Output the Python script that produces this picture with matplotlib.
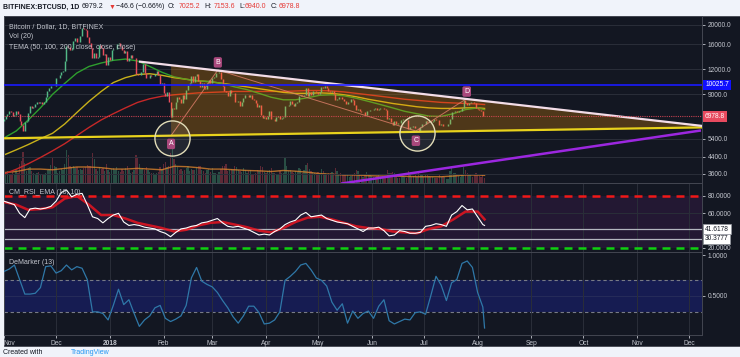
import matplotlib
matplotlib.use('Agg')
import matplotlib.pyplot as plt
import matplotlib.dates as mdates
from matplotlib.patches import Polygon, Rectangle
from matplotlib.transforms import blended_transform_factory
import numpy as np
import pandas as pd

plt.rcParams['font.family'] = ['Liberation Sans', 'DejaVu Sans']

START = '2017-11-01'

# daily closes, BITFINEX:BTCUSD (Nov 2017 .. Aug 5 2018)
closes = (
    [6750, 7030, 7160, 7400, 7380, 6980, 7120, 7460, 7140, 6590, 6340, 5900, 6550, 6620, 7290,
     7830, 7700, 7790, 8030, 8240, 8100, 8220, 8010, 8200, 8750, 9300, 9730, 9900, 9850, 9950]
    + [10850, 10900, 11300, 11600, 11700, 13200, 15600, 15500, 14900, 15100, 16700, 17200, 16400, 16500, 17600,
       19200, 19000, 18800, 17300, 16300, 15400, 13600, 14400, 13700, 13900, 15800, 15400, 14200, 14300, 12600, 13900]
    + [13400, 14900, 15100, 15200, 16000, 16300, 15600, 14900, 14500, 14800, 13200, 13700, 14200, 13600, 13600,
       11400, 11200, 11200, 11600, 12800, 11500, 10800, 10900, 11300, 11100, 11100, 11400, 11800, 11200, 10100, 10200]
    + [9100, 8800, 9200, 8200, 6900, 7700, 7600, 8200, 8700, 8500, 8100, 8900, 8500, 9500,
       10000, 10200, 11100, 10400, 11100, 11400, 10500, 9800, 10200, 9700, 9600, 10300, 10600, 10300]
    + [10900, 11000, 11500, 11500, 11600, 10700, 9900, 9300, 9200, 8800, 9500, 9100, 9100, 8200, 8200,
       8300, 7900, 8200, 8600, 8900, 8900, 8700, 8900, 8500, 8450, 8150, 7800, 7950, 7100, 6850, 6950]
    + [6800, 7050, 7400, 6800, 6800, 6600, 6900, 7000, 6770, 6830, 6930, 7900, 7900, 8000, 8350,
       8050, 7900, 8170, 8280, 8850, 8920, 8800, 8950, 9650, 8870, 9280, 8930, 9350, 9400, 9240]
    + [9070, 9220, 9750, 9700, 9850, 9650, 9370, 9190, 9320, 9030, 8430, 8500, 8720, 8680, 8500,
       8350, 8060, 8240, 8240, 8520, 8400, 8000, 7500, 7580, 7460, 7350, 7350, 7110, 7470, 7400, 7500]
    + [7520, 7640, 7720, 7500, 7630, 7660, 7690, 7620, 7510, 6780, 6890, 6550, 6300, 6640, 6400,
       6500, 6460, 6710, 6740, 6760, 6720, 6050, 6170, 6150, 6250, 6080, 6130, 5900, 6210, 6390]
    + [6360, 6620, 6510, 6600, 6530, 6600, 6760, 6710, 6660, 6300, 6390, 6240, 6240, 6270, 6360,
       6740, 7320, 7380, 7470, 7330, 7400, 7400, 7720, 8400, 8170, 7930, 8190, 8230, 8210, 8170, 7730]
    + [7600, 7540, 7420, 7025.2, 6978.8]
)
first_open = 6620

# daily volume, thousand BTC
volumes = (
    [30, 28, 35, 27, 25, 33, 26, 38, 30, 55, 62, 90, 58, 35, 42, 45, 35, 28, 26, 30, 32, 24, 22, 25, 30, 36, 40, 52, 75, 48]
    + [45, 30, 35, 40, 38, 55, 95, 80, 48, 45, 50, 42, 46, 38, 40, 36, 42, 45, 52, 50, 48, 85, 70, 40, 35, 45, 40, 42, 35, 55, 38]
    + [32, 40, 42, 38, 45, 35, 32, 40, 35, 42, 50, 38, 30, 33, 36, 80, 72, 55, 40, 42, 38, 45, 36, 32, 28, 30, 25, 28, 32, 45, 40]
    + [55, 60, 45, 48, 85, 105, 70, 55, 45, 38, 40, 35, 36, 42, 48, 35, 40, 38, 36, 45, 48, 50, 38, 35, 28, 36, 40, 32]
    + [42, 30, 28, 25, 32, 40, 48, 50, 55, 35, 38, 40, 36, 48, 45, 38, 35, 32, 42, 38, 30, 34, 36, 25, 22, 30, 38, 35, 48, 45, 32]
    + [30, 35, 38, 42, 30, 28, 25, 22, 35, 28, 30, 72, 48, 35, 38, 32, 30, 34, 32, 42, 40, 30, 36, 52, 58, 40, 35, 32, 30, 28]
    + [32, 28, 40, 35, 28, 25, 30, 28, 32, 30, 42, 35, 25, 28, 26, 25, 22, 24, 18, 20, 22, 28, 38, 35, 26, 20, 18, 25, 32, 24, 22]
    + [20, 18, 16, 20, 22, 18, 20, 15, 14, 38, 28, 30, 32, 28, 22, 15, 14, 18, 20, 16, 15, 35, 25, 18, 20, 22, 18, 28, 26, 22]
    + [18, 22, 25, 20, 18, 16, 15, 14, 15, 25, 18, 20, 16, 12, 12, 35, 42, 30, 28, 25, 20, 18, 22, 45, 38, 28, 25, 22, 18, 22, 28]
    + [25, 20, 18, 22, 15]
)

# weekly readings of the overlays (every 7 days from START, last one on the last bar)
tema50 = [5450, 5900, 6700, 7700, 9000, 10200, 11500, 12400, 12900, 13300, 13500, 13200, 12400, 11600,
          11000, 10700, 10500, 10400, 10200, 9800, 9500, 9100, 8700, 8450, 8450, 8650, 8900, 8950,
          8850, 8600, 8300, 8000, 7700, 7400, 7200, 7000, 6980, 7200, 7550, 7700, 7550]
tema100 = [4480, 4750, 5050, 5400, 5750, 6400, 7300, 8300, 9300, 10300, 10900, 11300, 11400, 11200,
           10900, 10700, 10500, 10400, 10200, 10000, 9800, 9600, 9400, 9200, 9100, 9100, 9150, 9100,
           8950, 8750, 8500, 8300, 8100, 7950, 7800, 7700, 7650, 7650, 7700, 7700, 7650]
tema200 = [3600, 3800, 4050, 4350, 4700, 5100, 5600, 6150, 6700, 7200, 7700, 8200, 8550, 8800,
           8950, 9050, 9150, 9200, 9250, 9300, 9300, 9300, 9300, 9300, 9350, 9400, 9400, 9350,
           9250, 9100, 8950, 8800, 8650, 8500, 8400, 8300, 8200, 8150, 8100, 8050, 8000]
vol_ma = [30, 33, 40, 40, 38, 42, 46, 46, 44, 40, 40, 42, 40, 38, 48, 47, 44, 40, 40, 38, 36, 35,
          33, 36, 34, 31, 27, 25, 23, 23, 21, 20, 20, 19, 18, 18, 18, 20, 23, 23, 22]
rsi_ema = [73, 70, 64, 65, 67, 77, 80, 70, 58, 58, 54, 49, 46, 43, 39, 41, 46, 49, 50, 47, 44, 40,
           38, 43, 50, 55, 56, 53, 49, 45, 43, 42, 39, 38, 37, 42, 45, 53, 62, 62, 53]

# readings every 3 days from START, last one on the last bar
rsi = [74, 72, 70, 60, 55, 65, 66, 65, 66, 68, 74, 84, 87, 79, 82, 83, 70, 56, 54, 49, 54, 58, 60, 50,
       46, 47, 46, 44, 43, 42, 39, 37, 33, 38, 42, 43, 45, 46, 49, 50, 52, 54, 49, 45, 44, 45, 43, 41,
       38, 35, 36, 35, 39, 42, 47, 50, 52, 58, 61, 56, 57, 58, 54, 52, 50, 49, 48, 45, 42, 39, 43, 43,
       44, 40, 34, 35, 40, 39, 37, 37, 38, 45, 46, 48, 47, 45, 58, 62, 69, 64, 65, 56, 47, 46]
demarker = [0.80, 0.83, 0.88, 0.70, 0.52, 0.52, 0.53, 0.60, 0.86, 0.87, 0.78, 0.81, 0.88, 0.82, 0.86,
            0.84, 0.70, 0.30, 0.30, 0.28, 0.20, 0.38, 0.58, 0.39, 0.45, 0.28, 0.12, 0.20, 0.25, 0.35,
            0.38, 0.22, 0.18, 0.21, 0.25, 0.38, 0.72, 0.85, 0.68, 0.64, 0.61, 0.54, 0.44, 0.35, 0.24,
            0.16, 0.25, 0.37, 0.37, 0.29, 0.15, 0.16, 0.20, 0.30, 0.69, 0.74, 0.80, 0.88, 0.90, 0.82,
            0.72, 0.69, 0.62, 0.42, 0.32, 0.40, 0.16, 0.31, 0.22, 0.28, 0.31, 0.22, 0.37, 0.45, 0.19,
            0.15, 0.18, 0.21, 0.20, 0.29, 0.30, 0.27, 0.50, 0.74, 0.63, 0.44, 0.66, 0.70, 0.90, 0.93,
            0.85, 0.54, 0.36, 0.10]

# drawings: (date, price) anchors
resist_dates = ['2018-01-18 10:00', '2018-12-08 12:00']
resist_prices = [13100, 6255]
support_dates = ['2017-11-01 00:00', '2018-12-08 12:00']
support_prices = [5428, 6150]
purple_dates = ['2018-05-15 00:00', '2018-12-07 00:00']
purple_prices = [3230, 5925]
fill_start = '2018-02-05 07:00'
pattern_names = ['A', 'B', 'C', 'D']
pattern_dates = ['2018-02-05 07:00', '2018-03-04 06:00', '2018-06-26 10:00', '2018-07-24 12:00']
pattern_prices = [5600, 11900, 5900, 8440]
circle_dates = ['2018-02-05 17:00', '2018-06-26 19:00']
circle_prices = [5430, 5750]
level_blue = 10025.7
last_price = 6978.8
rsi_levels = [41.6178, 30.3777]

BG = '#131722'
GRID = '#2a2e39'
TXT = '#c3c6ce'
UP = '#53b987'
DOWN = '#eb4d5c'


def to_dt(ds):
    return pd.to_datetime(ds, format='ISO8601')


dates = pd.date_range(START, periods=len(closes), freq='D')
opens = [first_open] + closes[:-1]
up = [c >= o for o, c in zip(opens, closes)]


def sampled(values, step):
    idx = pd.date_range(START, periods=len(values) - 1, freq=f'{step}D')
    return idx.append(pd.DatetimeIndex([dates[-1]]))


def on_line(ds, ps, when):
    xs = mdates.date2num(to_dt(ds))
    return float(np.exp(np.interp(mdates.date2num(pd.Timestamp(when)), xs, np.log(ps))))


W, H = 740, 357
fig = plt.figure(figsize=(W / 100, H / 100), dpi=100)
fig.patch.set_facecolor('#f0f3fa')
fig.patches.append(Rectangle((4 / W, 1 - 346 / H), 736 / W, 330 / H, transform=fig.transFigure,
                             facecolor=BG, edgecolor='#434651', lw=0.6, zorder=-5))

left, width = 4 / W, 698.3 / W
ax = fig.add_axes([left, 1 - 183 / H, width, 167 / H])
vax = ax.twinx()
ax2 = fig.add_axes([left, 1 - 251.7 / H, width, 68.7 / H], sharex=ax)
ax3 = fig.add_axes([left, 1 - 334.7 / H, width, 83 / H], sharex=ax)

month_starts = pd.date_range('2017-11-01', '2018-12-01', freq='MS')
month_names = ['2018' if d.month == 1 else d.strftime('%b') for d in month_starts]

for a in (ax, vax, ax2, ax3):
    for s in a.spines.values():
        s.set_color('#434651')
        s.set_linewidth(0.7)
    a.tick_params(colors=TXT, labelsize=4.8, length=2.5, width=0.6, pad=1.5)
    a.set_facecolor(BG)

# ---- price pane
ax.set_zorder(vax.get_zorder() + 1)
ax.patch.set_visible(False)
vax.set_ylim(0, 480)
vax.yaxis.set_visible(False)
vax.set_xticks(month_starts)
vax.grid(axis='x', color=GRID, lw=0.7)
vol_colors = [UP if u else DOWN for u in up]
vax.bar(dates, volumes, width=0.75, color=vol_colors, alpha=0.35, lw=0)
vax.plot(sampled(vol_ma, 7), vol_ma, color='#d9822b', lw=1.0, alpha=0.8)

ax.set_yscale('log')
ax.set_ylim(3245, 22150)
ax.yaxis.tick_right()
price_ticks = [3600, 4400, 5400, 9000, 12000, 16000, 20000]
ax.set_yticks(price_ticks, [f'{p:.1f}' for p in price_ticks])
ax.minorticks_off()
ax.grid(axis='y', color=GRID, lw=0.7)
ax.set_axisbelow(True)

week = sampled(tema50, 7)
ax.plot(week, tema200, color='#c62828', lw=1.0, zorder=2)
ax.plot(week, tema100, color='#c8b11a', lw=1.0, zorder=2)
ax.plot(week, tema50, color='#2e9e2e', lw=1.0, zorder=2)

lo = [min(o, c) for o, c in zip(opens, closes)]
hi = [max(o, c) for o, c in zip(opens, closes)]
ax.vlines(dates, lo, hi, colors=vol_colors, lw=1.05, zorder=3)

end = resist_dates[-1]
poly = [(fill_start, on_line(resist_dates, resist_prices, fill_start)),
        (end, on_line(resist_dates, resist_prices, end)),
        (end, on_line(support_dates, support_prices, end)),
        (fill_start, on_line(support_dates, support_prices, fill_start))]
ax.add_patch(Polygon([(mdates.date2num(pd.Timestamp(d)), p) for d, p in poly],
                     closed=True, facecolor='#ff9800', alpha=0.25, edgecolor='none', zorder=4))

ax.plot(to_dt(pattern_dates), pattern_prices, color='#e0806a', lw=0.7, alpha=0.8, zorder=4)
ax.plot(to_dt(support_dates), support_prices, color='#e8d21c', lw=1.6, zorder=5)
ax.plot(to_dt(resist_dates), resist_prices, color='#f3dde8', lw=1.6, zorder=5)
ax.plot(to_dt(purple_dates), purple_prices, color='#9c27e0', lw=1.8, zorder=5)
ax.axhline(level_blue, color='#1a1aff', lw=1.2, zorder=5)
ax.axhline(last_price, color=DOWN, lw=0.8, ls=(0, (1, 1)), alpha=0.8, zorder=5)

ax.scatter(to_dt(circle_dates), circle_prices, s=640, marker='o',
           facecolors=(1, 1, 1, 0.07), edgecolors='#e2ddb8', linewidths=1.0, zorder=6)
offsets = [(0, -6), (0, 5.5), (0, -7), (1.5, 6)]
for name, d, p, off in zip(pattern_names, pattern_dates, pattern_prices, offsets):
    ax.annotate(name, (pd.Timestamp(d), p), xytext=off, textcoords='offset points',
                ha='center', va='center', fontsize=5, color='white', zorder=7,
                bbox=dict(boxstyle='round,pad=0.25', fc='#a9487c', ec='none'))

ybl = blended_transform_factory(ax.transAxes, ax.transData)
ax.text(1.004, level_blue, f'{level_blue:.1f}', transform=ybl, ha='left', va='center',
        fontsize=4.8, color='white', bbox=dict(boxstyle='square,pad=0.25', fc='#1010ff', ec='none'))
ax.text(1.004, last_price, f'{last_price:.1f}', transform=ybl, ha='left', va='center',
        fontsize=4.8, color='white', bbox=dict(boxstyle='square,pad=0.25', fc='#e84a5f', ec='none'))

# ---- RSI pane
ax2.set_ylim(15.7, 95)
ax2.yaxis.tick_right()
ax2.set_yticks([20, 60, 80], ['20.0000', '60.0000', '80.0000'])
ax2.axhspan(20, 80, color='#9c27b0', alpha=0.12, lw=0, zorder=0)
ax2.grid(axis='x', color=GRID, lw=0.7)
ax2.axhline(60, color=GRID, lw=0.7, zorder=0)
ax2.axhline(80, color='#f01818', lw=1.8, dashes=(3.2, 2.4), zorder=2)
ax2.axhline(20, color='#10d010', lw=1.8, dashes=(3.2, 2.4), zorder=2)
for lv in rsi_levels:
    ax2.axhline(lv, color='#b2b5be', lw=0.9, zorder=2)
    ax2.text(1.004, lv, f'{lv:.4f}', transform=blended_transform_factory(ax2.transAxes, ax2.transData),
             ha='left', va='center', fontsize=4.8, color='#131722',
             bbox=dict(boxstyle='square,pad=0.25', fc='white', ec='#9598a1', lw=0.5))
ax2.plot(sampled(rsi_ema, 7), rsi_ema, color='#e8141f', lw=1.8, alpha=0.85, zorder=3)
ax2.plot(sampled(rsi, 3), rsi, color='white', lw=0.8, zorder=4)

# ---- DeMarker pane
ax3.set_ylim(0.017, 1.045)
ax3.yaxis.tick_right()
ax3.set_yticks([0.5, 1.0], ['0.5000', '1.0000'])
ax3.axhspan(0.3, 0.7, color='#161c52', lw=0, zorder=0)
ax3.grid(axis='x', color=GRID, lw=0.7)
ax3.axhline(0.5, color='#262c5a', lw=0.7, zorder=1)
for lv in (0.3, 0.7):
    ax3.axhline(lv, color='#787b86', lw=0.8, dashes=(3, 2.5), zorder=1)
ax3.plot(sampled(demarker, 3), demarker, color='#2f78a8', lw=0.9, zorder=3)

ax3.set_xlim(pd.Timestamp('2017-11-01'), pd.Timestamp('2018-12-08 12:00'))
ax3.set_xticks(month_starts, month_names)
for lab in ax3.get_xticklabels():
    if lab.get_text() == '2018':
        lab.set_fontweight('bold')
    if lab.get_text() == 'Nov' and lab.get_position()[0] < mdates.date2num(pd.Timestamp('2018-01-01')):
        lab.set_horizontalalignment('left')
for a in (ax, vax, ax2):
    a.tick_params(axis='x', labelbottom=False, length=0)

# ---- texts
def ftext(x, y, s, **kw):
    fig.text(x / W, 1 - y / H, s, va='center', ha='left', **kw)

dark, red = '#131722', '#e53935'
header = [(3.3, 'BITFINEX:BTCUSD, 1D', dark, 'bold'), (82, '6979.2', dark, 'normal'),
          (108.5, '▼', red, 'normal'), (116, '−46.6 (−0.66%)', dark, 'normal'),
          (167.7, 'O:', dark, 'normal'), (178.3, '7025.2', red, 'normal'),
          (204, 'H:', dark, 'normal'), (213.3, '7153.6', red, 'normal'),
          (239, 'L:', dark, 'normal'), (245, '6940.0', red, 'normal'),
          (270.7, 'C:', dark, 'normal'), (278.3, '6978.8', red, 'normal')]
for x, s, c, wgt in header:
    ftext(x, 7, s, fontsize=5, color=c, fontweight=wgt)

ftext(9, 26.7, 'Bitcoin / Dollar, 1D, BITFINEX', fontsize=5, color=TXT)
ftext(9, 36.7, 'Vol (20)', fontsize=5, color=TXT)
ftext(9, 47.3, 'TEMA (50, 100, 200, close, close, close)', fontsize=5, color=TXT)
ftext(9, 192, 'CM_RSI_EMA (10, 10)', fontsize=5, color=TXT)
ftext(9, 262.7, 'DeMarker (13)', fontsize=5, color=TXT)
ftext(3, 352, 'Created with', fontsize=5, color='#131722')
ftext(71, 352, 'TradingView', fontsize=5, color='#2196f3')

fig.savefig('out.png', dpi=100, facecolor=fig.get_facecolor())
